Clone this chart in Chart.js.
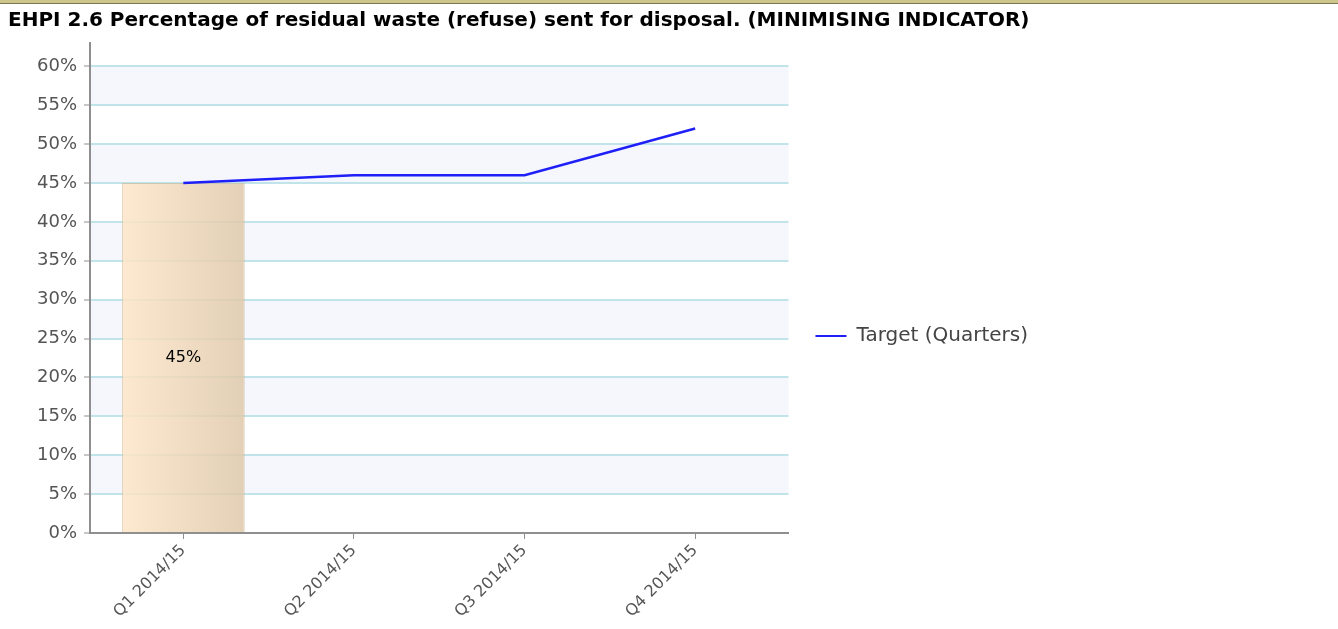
<!DOCTYPE html>
<html>
<head>
<meta charset="utf-8">
<script src="https://cdn.jsdelivr.net/npm/chart.js@4/dist/chart.umd.min.js"></script>
<style>
  body { margin: 0; background: #fff; }
  #topbar { position: absolute; left: 0; top: 0; width: 1338px; height: 3px; background: #cdc58c; border-bottom: 1px solid #7a7656; }
  #title { position: absolute; left: 8px; top: 7px; font: bold 20px 'DejaVu Sans', sans-serif; color: #000; white-space: nowrap; }
  #wrap { position: absolute; left: 0; top: 0; width: 1338px; height: 629px; }
</style>
</head>
<body>
<div id="topbar"></div>
<div id="wrap"><canvas id="chart"></canvas></div>
<div id="title">EHPI 2.6 Percentage of residual waste (refuse) sent for disposal. (MINIMISING INDICATOR)</div>
<script>
const quarters = ['Q1 2014/15', 'Q2 2014/15', 'Q3 2014/15', 'Q4 2014/15'];
const actualValues = [45, null, null, null];
const targetValues = [45, 46, 46, 52];
const yTicks = [0, 5, 10, 15, 20, 25, 30, 35, 40, 45, 50, 55, 60];
const fontFamily = "'DejaVu Sans', sans-serif";

// shaded bands every other 5% step
const bandsPlugin = {
  id: 'bands',
  beforeDraw(chart) {
    const { ctx, chartArea, scales: { y } } = chart;
    ctx.save();
    ctx.fillStyle = '#f5f7fd';
    for (let i = 1; i < yTicks.length - 1; i += 2) {
      const top = y.getPixelForValue(yTicks[i + 1]);
      const bottom = y.getPixelForValue(yTicks[i]);
      ctx.fillRect(chartArea.left, top, chartArea.right - chartArea.left, bottom - top);
    }
    ctx.restore();
  }
};

// value label in the middle of the bar
const barLabelPlugin = {
  id: 'barLabel',
  afterDatasetsDraw(chart) {
    const { ctx } = chart;
    const meta = chart.getDatasetMeta(1);
    ctx.save();
    ctx.font = '16px ' + fontFamily;
    ctx.fillStyle = '#000';
    ctx.textAlign = 'center';
    ctx.textBaseline = 'middle';
    meta.data.forEach((el, i) => {
      if (actualValues[i] == null) return;
      ctx.fillText(actualValues[i] + '%', el.x, (el.y + el.base) / 2);
    });
    ctx.restore();
  }
};

const ctx = document.getElementById('chart').getContext('2d');
new Chart(ctx, {
  type: 'bar',
  data: {
    datasets: [{
      type: 'line',
      label: 'Target (Quarters)',
      data: targetValues.map((v, i) => ({ x: i, y: v })),
      borderColor: '#1f1ff8',
      backgroundColor: '#1f1ff8',
      borderWidth: 2.5,
      pointRadius: 0,
      tension: 0,
      order: 0
    }, {
      label: 'Actual',
      data: actualValues.map((v, i) => ({ x: i, y: v })),
      backgroundColor: c => {
        const chart = c.chart;
        if (!chart.chartArea) return 'rgba(240,216,186,0.85)';
        const x = chart.scales.x;
        const w = (x.getPixelForValue(1) - x.getPixelForValue(0)) * 0.72;
        const cx = x.getPixelForValue(c.dataIndex);
        const g = chart.ctx.createLinearGradient(cx - w / 2, 0, cx + w / 2, 0);
        g.addColorStop(0, 'rgba(254,230,200,0.85)');
        g.addColorStop(1, 'rgba(222,200,170,0.85)');
        return g;
      },
      borderColor: 'rgba(205,180,145,0.6)',
      borderWidth: 1,
      categoryPercentage: 1,
      barPercentage: 0.72,
      order: 1
    }]
  },
  options: {
    responsive: true,
    maintainAspectRatio: false,
    animation: false,
    layout: { padding: { top: 43, right: 300, bottom: 0, left: 0 } },
    plugins: {
      legend: {
        position: 'right',
        labels: {
          generateLabels: chart => Chart.defaults.plugins.legend.labels.generateLabels(chart)
            .filter(item => item.datasetIndex === 0)
            .map(item => ({ ...item, lineWidth: 0 })),
          boxWidth: 31,
          boxHeight: 2,
          padding: 27,
          color: '#444',
          font: { family: fontFamily, size: 20 }
        }
      },
      tooltip: { enabled: false }
    },
    scales: {
      x: {
        type: 'linear',
        offset: false,
        min: -0.547,
        max: 3.547,
        afterFit(scale) { scale.height = 96; },
        afterBuildTicks(scale) { scale.ticks = quarters.map((q, i) => ({ value: i })); },
        grid: { offset: false, drawOnChartArea: false, tickLength: 6, tickColor: '#8f8f8f', tickWidth: 1 },
        border: { color: '#8f8f8f', width: 2 },
        ticks: {
          minRotation: 45, maxRotation: 45, autoSkip: false, color: '#555', padding: 2,
          callback: v => quarters[v],
          font: { family: fontFamily, size: 16 }
        }
      },
      y: {
        min: 0,
        max: 63,
        afterFit(scale) { scale.width = 90; },
        afterBuildTicks(scale) { scale.ticks = yTicks.map(v => ({ value: v })); },
        grid: { color: '#c0e4ea', lineWidth: 2, tickLength: 6, tickColor: '#8f8f8f', tickWidth: 1 },
        border: { color: '#8f8f8f', width: 2 },
        ticks: { color: '#555', padding: 7, callback: v => v + '%', font: { family: fontFamily, size: 18 } }
      }
    }
  },
  plugins: [bandsPlugin, barLabelPlugin]
});
</script>
</body>
</html>
